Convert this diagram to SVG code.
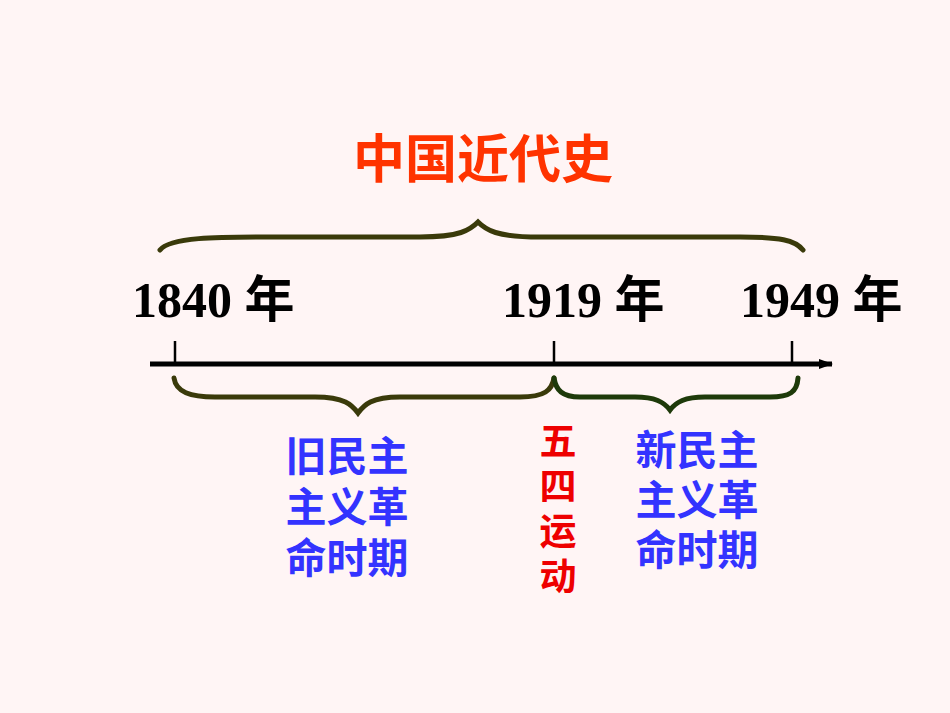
<svg xmlns="http://www.w3.org/2000/svg" width="950" height="713" viewBox="0 0 950 713">
<style>
.yr{font-family:"Liberation Serif","Noto Sans CJK SC",serif;font-weight:bold;font-size:50px;fill:#000}
.bl{font-family:"Noto Sans CJK SC",sans-serif;font-weight:bold;font-size:41px;fill:#3333FF;text-anchor:middle}
.rd{font-family:"Noto Sans CJK SC",sans-serif;font-weight:bold;font-size:37px;fill:#EE0000;text-anchor:middle}
.br{fill:none;stroke-width:5;stroke-linecap:round}
</style>
<defs><marker id="ah" markerWidth="14" markerHeight="10" refX="13" refY="5" orient="auto" markerUnits="userSpaceOnUse"><path d="M0,0L14,5L0,10z" fill="#000"/></marker></defs>
<rect width="950" height="713" fill="#FFF5F5"/>
<g id="title"><text x="483" y="178" text-anchor="middle" font-family="Noto Sans CJK SC,sans-serif" font-weight="bold" font-size="52" fill="#FF3300">中国近代史</text></g>
<g id="connectors">
<line x1="150" y1="364" x2="832" y2="364" stroke="#000" stroke-width="5" marker-end="url(#ah)"/>
<line x1="175" y1="341" x2="175" y2="364" stroke="#000" stroke-width="2.5"/>
<line x1="554" y1="341" x2="554" y2="364" stroke="#000" stroke-width="2.5"/>
<line x1="792" y1="341" x2="792" y2="364" stroke="#000" stroke-width="2.5"/>
<path class="br" stroke="#3A3A0A" d="M160,250 C170,237 220,237 260,237 L420,237 C460,237 470,230 478,222 C486,230 496,237 540,237 L740,237 C780,237 795,240 803,250"/>
<path class="br" stroke="#3A3A0A" d="M174,378 C176,392 190,397 215,397 L315,397 C345,397 352,405 358,413 C364,405 371,397 400,397 L520,397 C545,397 552,390 554,378"/>
<path class="br" stroke="#1E3A0A" d="M554,378 C556,390 562,397 580,397 L635,397 C655,397 664,402 670,410 C676,402 685,397 705,397 L770,397 C790,397 797,392 798,378"/>
</g>
<g id="y1840"><text class="yr" x="132" y="317">1840 年</text></g>
<g id="y1919"><text class="yr" x="502" y="317">1919 年</text></g>
<g id="y1949"><text class="yr" x="740" y="317">1949 年</text></g>
<g id="old"><text class="bl" x="347" y="471">旧民主</text><text class="bl" x="347" y="522">主义革</text><text class="bl" x="347" y="573">命时期</text></g>
<g id="new"><text class="bl" x="697" y="465">新民主</text><text class="bl" x="697" y="515">主义革</text><text class="bl" x="697" y="565">命时期</text></g>
<g id="wusi"><text class="rd" x="558" y="455">五</text><text class="rd" x="558" y="500">四</text><text class="rd" x="558" y="545">运</text><text class="rd" x="558" y="590">动</text></g>
</svg>
